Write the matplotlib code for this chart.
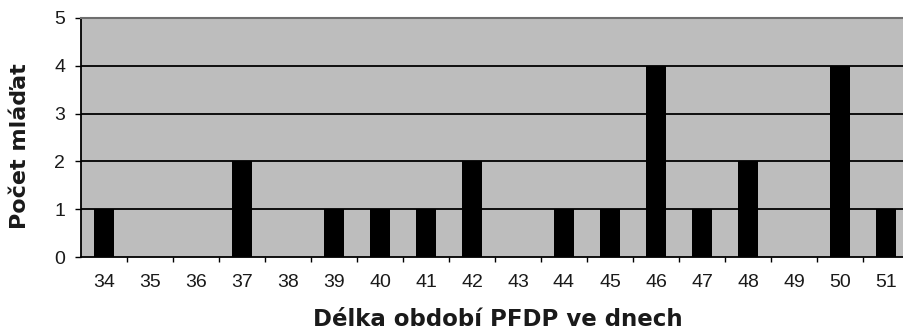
import numpy as np
import matplotlib.pyplot as plt

plt.rcParams['font.family'] = ['Liberation Sans', 'DejaVu Sans']

# days of PFDP period and number of young
days = [34, 35, 36, 37, 38, 39, 40, 41, 42, 43, 44, 45, 46, 47, 48, 49, 50, 51]
counts = [1, 0, 0, 2, 0, 1, 1, 1, 2, 0, 1, 1, 4, 1, 2, 0, 4, 1]
yticks = [0, 1, 2, 3, 4, 5]

W, H = 904, 331
fig = plt.figure(figsize=(W/100, H/100), dpi=100)
fig.patch.set_facecolor('white')

# plot area runs past the right edge of the picture (cropped original)
left, right = 81, 909
top, bottom = 18, 257
ax = fig.add_axes([left/W, 1 - bottom/H, (right-left)/W, (bottom-top)/H])
ax.set_facecolor('#bdbdbd')

x = np.arange(len(days))
for yv in yticks[1:-1]:
    ax.axhline(yv, color='black', linewidth=1.3, zorder=1)
ax.bar(x, counts, width=0.44, color='black', zorder=2)

ax.set_xlim(-0.5, len(days) - 0.5)
ax.set_ylim(0, 5)
ax.set_yticks(yticks)
ax.set_xticks(x)
ax.set_xticklabels([str(d) for d in days])
ax.set_xticks(x[:-1] + 0.5, minor=True)
ax.tick_params(axis='x', which='major', length=0, pad=12, labelsize=14, labelcolor='#1a1a1a')
ax.tick_params(axis='x', which='minor', length=3.5, width=1, direction='out', color='black')
ax.tick_params(axis='y', length=4.5, width=1, direction='out', pad=7, labelsize=14, labelcolor='#1a1a1a')

for s in ['left', 'bottom']:
    ax.spines[s].set_color('black')
    ax.spines[s].set_linewidth(1.3)
ax.spines['top'].set_color('#6e6e6e')
ax.spines['top'].set_linewidth(1.5)
ax.spines['right'].set_visible(False)

fig.text(498/W, 1 - 319/H, 'Délka období PFDP ve dnech', ha='center', va='center',
         fontsize=16.5, fontweight='bold', family='DejaVu Sans', color='#1a1a1a')
fig.text(20/W, 1 - 146/H, 'Počet mláďat', ha='center', va='center',
         rotation=90, fontsize=16, fontweight='bold', family='DejaVu Sans', color='#1a1a1a')

fig.savefig('out.png', dpi=100)
